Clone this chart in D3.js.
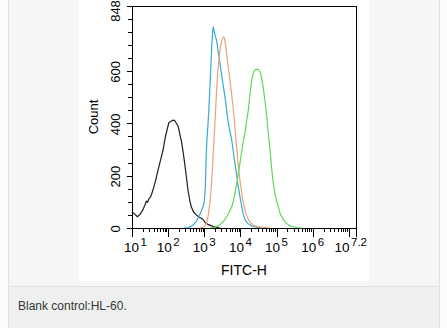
<!DOCTYPE html>
<html>
<head>
<meta charset="utf-8">
<script src="https://cdn.jsdelivr.net/npm/d3@7"></script>
<style>
  html, body { margin: 0; padding: 0; background: #fbfbfb; }
  svg { display: block; font-family: "Liberation Sans", Arial, sans-serif; }
</style>
</head>
<body>
<svg id="fig" width="447" height="328"></svg>
<script>
// Histogram traces: [log10(FITC-H), Count]
const blankControl = [
  [1.00,62],[1.06,55],[1.15,43],[1.22,52],[1.30,69],[1.35,85],[1.40,103],[1.43,98],[1.47,112],
  [1.52,120],[1.58,145],[1.65,180],[1.72,221],[1.80,265],[1.86,298],[1.92,345],[1.97,375],
  [2.02,402],[2.08,408],[2.14,412],[2.18,410],[2.23,400],[2.28,388],[2.33,355],[2.37,330],
  [2.42,285],[2.46,245],[2.51,190],[2.55,145],[2.60,105],[2.64,81],[2.70,62],[2.78,50],
  [2.85,42],[2.92,37],[2.98,30],[3.03,20],[3.10,14],[3.20,8],[3.30,4],[3.40,1],[3.45,0]
];
const blueSample = [
  [2.46,0],[2.55,2],[2.62,5],[2.70,12],[2.76,22],[2.83,38],[2.87,50],[2.92,66],[2.965,81],
  [3.00,100],[3.03,160],[3.05,260],[3.07,330],[3.10,390],[3.13,460],[3.16,545],[3.19,640],
  [3.21,700],[3.235,755],[3.25,768],[3.27,755],[3.30,735],[3.34,718],[3.39,670],[3.44,625],
  [3.48,585],[3.53,540],[3.58,495],[3.62,450],[3.66,405],[3.71,370],[3.76,336],[3.80,295],
  [3.85,247],[3.90,200],[3.94,158],[3.99,118],[4.04,81],[4.08,52],[4.13,31],[4.20,18],
  [4.27,11],[4.35,6],[4.45,3],[4.60,0]
];
const orangeSample = [
  [2.88,0],[2.95,3],[3.00,6],[3.05,12],[3.09,30],[3.13,70],[3.16,100],[3.19,150],[3.22,215],
  [3.25,290],[3.28,365],[3.31,440],[3.34,520],[3.37,590],[3.41,650],[3.45,695],[3.49,718],
  [3.53,730],[3.56,725],[3.60,690],[3.64,640],[3.68,600],[3.71,565],[3.75,520],[3.80,460],
  [3.84,400],[3.87,345],[3.91,290],[3.94,240],[3.98,190],[4.02,150],[4.06,112],[4.10,85],
  [4.14,62],[4.19,42],[4.24,28],[4.30,17],[4.36,10],[4.45,6],[4.55,4],[4.68,2],[4.82,0]
];
const greenSample = [
  [3.16,0],[3.30,3],[3.40,9],[3.48,18],[3.55,28],[3.62,43],[3.69,60],[3.76,81],[3.81,105],
  [3.85,133],[3.90,170],[3.94,205],[3.99,250],[4.04,295],[4.08,330],[4.13,365],[4.17,405],
  [4.22,450],[4.26,505],[4.31,560],[4.35,590],[4.39,602],[4.45,607],[4.50,605],[4.54,598],
  [4.58,578],[4.63,540],[4.68,485],[4.73,425],[4.77,365],[4.82,298],[4.86,235],[4.91,171],
  [4.96,130],[5.00,105],[5.05,81],[5.10,55],[5.19,31],[5.28,17],[5.37,9],[5.46,4],[5.56,2],[5.70,0]
];

const seriesList = [
  { name: "blank", data: blankControl, color: "#1e1e1e" },
  { name: "blue",  data: blueSample,   color: "#3aa9d6" },
  { name: "orange",data: orangeSample, color: "#eda375" },
  { name: "green", data: greenSample,  color: "#63d65a" }
];

const xExponentTicks = [1, 2, 3, 4, 5, 6];
const xMaxExponent = 7.2;
const yTickValues = [0, 200, 400, 600, 848];
const yMax = 848;
const captionText = "Blank control:HL-60.";

const svg = d3.select("#fig");

// page panel, image area and caption strip
svg.append("rect").attr("x", 8.5).attr("y", -1).attr("width", 431).attr("height", 287.5)
  .attr("fill", "#f5f6f6").attr("stroke", "#dedfdf");
svg.append("rect").attr("x", 79).attr("y", 0).attr("width", 290).attr("height", 281)
  .attr("fill", "#ffffff");
svg.append("rect").attr("x", 8.5).attr("y", 286.5).attr("width", 431).attr("height", 42)
  .attr("fill", "#eeefef").attr("stroke", "#e2e3e3");
svg.append("text").attr("x", 18).attr("y", 310).attr("font-size", 12).attr("fill", "#363636")
  .text(captionText);

const L = 132, R = 356, T = 6, B = 228;
const x = d3.scaleLog().domain([10, Math.pow(10, xMaxExponent)]).range([L, R]);
const y = d3.scaleLinear().domain([0, yMax]).range([B, T]);

// plot frame
svg.append("rect").attr("x", L).attr("y", T).attr("width", R - L).attr("height", B - T)
  .attr("fill", "none").attr("stroke", "#000").attr("stroke-width", 1)
  .attr("shape-rendering", "crispEdges");

// histogram traces
const line = d3.line()
  .x(d => x(Math.pow(10, d[0])))
  .y(d => y(d[1]));
const plot = svg.append("g");
seriesList.forEach(s => {
  plot.append("path").datum(s.data).attr("d", line)
    .attr("fill", "none").attr("stroke", s.color).attr("stroke-width", 1.2)
    .attr("stroke-linejoin", "round");
});

// x axis: major and minor log ticks (downward)
const xAxisG = svg.append("g").attr("shape-rendering", "crispEdges");
const minorX = [];
for (let e = 1; e < 8; e++) {
  for (let m = 2; m <= 9; m++) {
    const v = m * Math.pow(10, e);
    if (v <= Math.pow(10, xMaxExponent)) minorX.push(v);
  }
}
xAxisG.selectAll("line.minor").data(minorX).join("line")
  .attr("x1", d => Math.round(x(d)) + 0.5).attr("x2", d => Math.round(x(d)) + 0.5)
  .attr("y1", B).attr("y2", B + 4).attr("stroke", "#000");
const majorX = d3.range(1, 8).map(e => Math.pow(10, e)).concat([Math.pow(10, xMaxExponent)]);
xAxisG.selectAll("line.major").data(majorX).join("line")
  .attr("x1", d => Math.round(x(d)) + 0.5).attr("x2", d => Math.round(x(d)) + 0.5)
  .attr("y1", B).attr("y2", B + 9).attr("stroke", "#000");

// x tick labels: 10 with superscript exponent
const xLabels = xExponentTicks.map(e => ({ base: "10", exp: String(e), v: Math.pow(10, e) }))
  .concat([{ base: "10", exp: String(xMaxExponent), v: Math.pow(10, xMaxExponent) }]);
xLabels.forEach(lb => {
  const t = svg.append("text").attr("y", 252).attr("font-size", 13.5).attr("fill", "#000");
  t.append("tspan").text(lb.base);
  t.append("tspan").attr("dy", -6.5).attr("font-size", 11.5).attr("dx", 1.5).text(lb.exp);
  const w = t.node().getComputedTextLength() + 1.5;
  let left = x(lb.v) - w / 2;
  left = Math.max(124, Math.min(left, 367 - w));
  t.attr("x", left);
});

// y axis ticks (leftward)
const yAxisG = svg.append("g").attr("shape-rendering", "crispEdges");
const minorY = d3.range(0, yMax + 1, 50);
yAxisG.selectAll("line.minor").data(minorY).join("line")
  .attr("x1", L - 4).attr("x2", L)
  .attr("y1", d => Math.round(y(d)) + 0.5).attr("y2", d => Math.round(y(d)) + 0.5)
  .attr("stroke", "#000");
yAxisG.selectAll("line.major").data(yTickValues).join("line")
  .attr("x1", L - 5).attr("x2", L)
  .attr("y1", d => Math.round(y(d)) + 0.5).attr("y2", d => Math.round(y(d)) + 0.5)
  .attr("stroke", "#000");
// tick labels centred on their ticks, kept inside the top edge
svg.selectAll("text.ytick").data(yTickValues).join("text")
  .attr("class", "ytick")
  .attr("transform", d => `translate(120,${Math.max(y(d) + 1, 11)}) rotate(-90)`)
  .attr("text-anchor", "middle").attr("font-size", 13).attr("fill", "#000")
  .text(d => d);

// axis titles
svg.append("text").attr("transform", "translate(98,117) rotate(-90)")
  .attr("text-anchor", "middle").attr("font-size", 13).attr("fill", "#000").text("Count");
svg.append("text").attr("x", 244).attr("y", 275).attr("text-anchor", "middle")
  .attr("font-size", 14).attr("fill", "#000").text("FITC-H");
</script>
</body>
</html>
